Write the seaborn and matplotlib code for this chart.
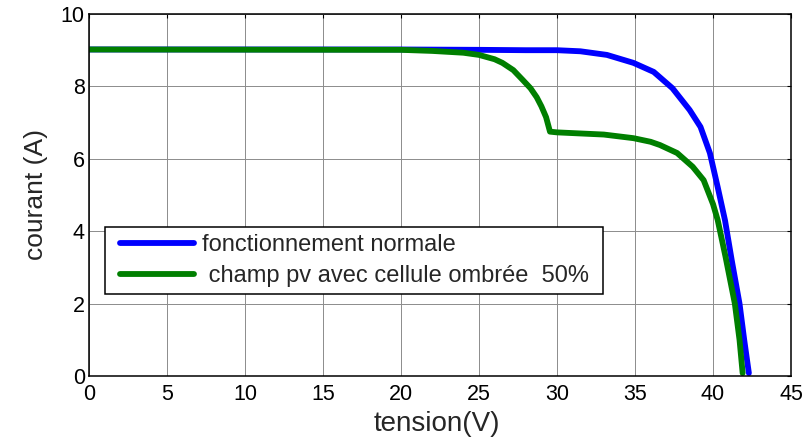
import matplotlib
matplotlib.use("Agg")
import matplotlib.pyplot as plt
from matplotlib.legend_handler import HandlerLine2D
import seaborn as sns
import pandas as pd

# I-V characteristic of the PV array, normal operation
v_normal = [0, 20, 25, 28, 30, 31.5, 33.2, 34.9, 36.2, 37.4, 38.5, 39.2, 39.8,
            40.3, 40.77, 41.2, 41.7, 42.0, 42.3]
i_normal = [9.02, 9.02, 9.01, 9.0, 9.0, 8.97, 8.87, 8.65, 8.4, 7.95, 7.35, 6.88,
            6.16, 5.22, 4.3, 3.2, 2.0, 1.0, 0.08]

# I-V characteristic with one cell shaded at 50 %
v_shaded = [0, 20, 22, 24, 25, 26, 26.5, 27.2, 27.8, 28.3, 28.7, 29.0, 29.3, 29.55,
            30, 31.5, 33, 34.9, 36, 36.6, 37.7, 38.7, 39.4, 40.0, 40.3, 40.8, 41.4,
            41.7, 41.9]
i_shaded = [9.02, 9.01, 8.98, 8.93, 8.87, 8.75, 8.65, 8.45, 8.18, 7.95, 7.7, 7.45,
            7.15, 6.75, 6.73, 6.7, 6.67, 6.57, 6.47, 6.38, 6.16, 5.78, 5.41, 4.75,
            4.31, 3.3, 2.0, 1.0, 0.08]

labels = ["fonctionnement normale", " champ pv avec cellule ombrée  50%"]
x_ticks = [0, 5, 10, 15, 20, 25, 30, 35, 40, 45]
y_ticks = [0, 2, 4, 6, 8, 10]

df = pd.concat([
    pd.DataFrame({"tension": v_normal, "courant": i_normal, "serie": labels[0]}),
    pd.DataFrame({"tension": v_shaded, "courant": i_shaded, "serie": labels[1]}),
], ignore_index=True)

sns.set_style("white")
plt.rcParams["font.family"] = ["Liberation Sans", "DejaVu Sans"]

W, H = 805, 438
fig = plt.figure(figsize=(W / 100, H / 100), dpi=100)
ax = fig.add_axes([89 / W, (H - 376) / H, 702 / W, 362 / H])

sns.lineplot(data=df, x="tension", y="courant", hue="serie",
             palette={labels[0]: "#0000FF", labels[1]: "#007F00"},
             sort=False, estimator=None, linewidth=4.2, ax=ax, legend=False)

ax.set_xlim(0, 45)
ax.set_ylim(0, 10)
ax.set_xticks(x_ticks)
ax.set_yticks(y_ticks)
ax.grid(True, color="#8c8c8c", linewidth=0.7, linestyle="-")
ax.set_axisbelow(True)
for s in ax.spines.values():
    s.set_visible(True)
    s.set_color("black")
    s.set_linewidth(1.1)
ax.tick_params(direction="in", length=3, width=0.8, top=True, right=True,
               labelsize=15.5, colors="black")
ax.tick_params(axis="x", pad=6)
ax.tick_params(axis="y", pad=3)

ax.set_xlabel("tension(V)", fontsize=20, va="bottom")
ax.set_ylabel("courant (A)", fontsize=19)
ax.xaxis.set_label_coords(0.496, -0.168)
ax.yaxis.set_label_coords(-0.059, 0.5)

handles = [plt.Line2D([], [], color="#0000FF", linewidth=4.2),
           plt.Line2D([], [], color="#007F00", linewidth=4.2)]
leg = ax.legend(handles, labels, loc="lower left",
                bbox_to_anchor=(16 / 702, 82 / 362, 498 / 702, 67 / 362),
                mode="expand", borderaxespad=0, fontsize=17, frameon=True,
                fancybox=False, edgecolor="black", framealpha=1,
                handlelength=3.47, handletextpad=0.34, labelspacing=0.38,
                borderpad=0.3,
                handler_map={plt.Line2D: HandlerLine2D(xpad=0.34)})
leg.get_frame().set_linewidth(1.1)

fig.savefig("out.png", dpi=100)
